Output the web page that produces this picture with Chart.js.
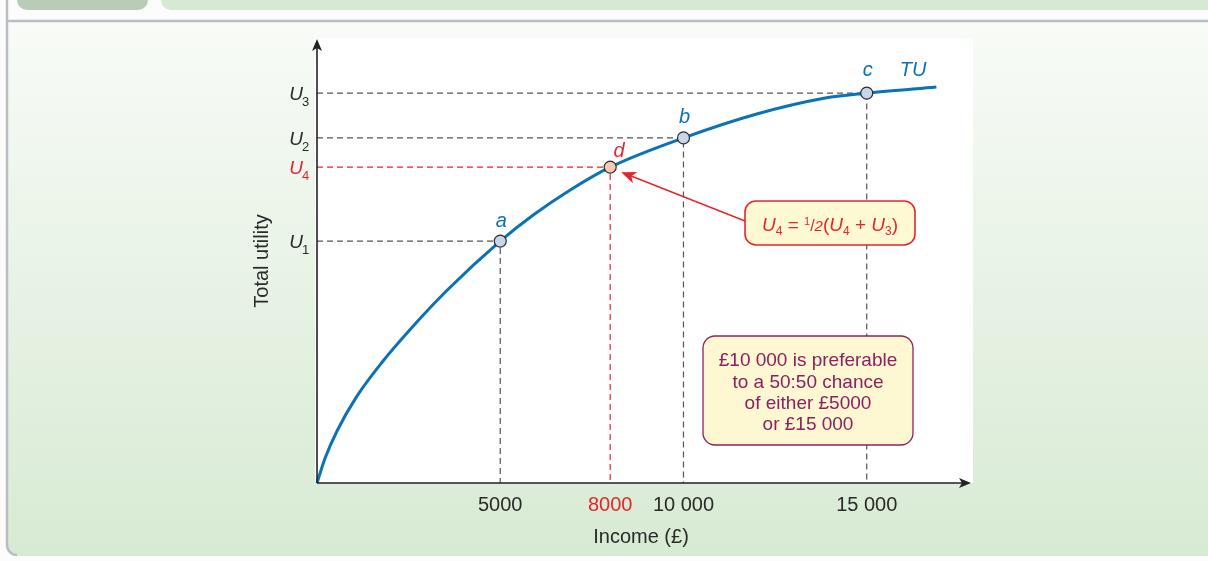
<!DOCTYPE html>
<html>
<head>
<meta charset="utf-8">
<script src="https://cdn.jsdelivr.net/npm/chart.js@4.4.1/dist/chart.umd.min.js"></script>
<style>
  html, body { margin: 0; padding: 0; background: #fff; overflow: hidden; }
  canvas { display: block; }
</style>
</head>
<body>
<canvas id="chart" width="1208" height="561"></canvas>
<script>
// TU curve, income (£) against total utility (arbitrary units)
const curveIncome  = [0, 220, 550, 1090, 1770, 2590, 3550, 5000, 5900, 6900, 8000, 10000, 12000, 13800, 15000, 16900];
const curveUtility = [0, 5.6, 11.8, 19.6, 27.2, 35.1, 43.5, 54.6, 60.5, 66.1, 71.3, 77.9, 83.3, 86.8, 88.0, 89.4];

// the marked points on the curve
const pointNames   = ['a', 'd', 'b', 'c'];
const pointIncome  = [5000, 8000, 10000, 15000];
const pointUtility = [54.6, 71.3, 77.9, 88.0];
const pointSubs    = ['1', '4', '2', '3'];   // U1, U4, U2, U3

const xTickValues = [5000, 8000, 10000, 15000];
const xTickLabels = ['5000', '8000', '10 000', '15 000'];

const noteLines = ['£10 000 is preferable', 'to a 50:50 chance', 'of either £5000', 'or £15 000'];

const FONT  = '"Liberation Sans", Arial, sans-serif';
const BLUE  = '#0a72b5';
const RED   = '#e5262d';
const GREY  = '#555';
const PLUM  = '#8c2063';
const INK   = '#2a2a2a';

// dashed guides from each point to both axes
const guideSets = pointIncome.map((inc, i) => ({
  data: [{ x: 0, y: pointUtility[i] }, { x: inc, y: pointUtility[i] }, { x: inc, y: 0 }],
  showLine: true,
  borderColor: pointNames[i] === 'd' ? RED : GREY,
  borderWidth: 1.2,
  borderDash: [6, 4],
  pointRadius: 0,
  tension: 0,
  order: 3,
  clip: false
}));

function roundRect(ctx, x, y, w, h, r) {
  ctx.beginPath();
  ctx.moveTo(x + r, y);
  ctx.arcTo(x + w, y, x + w, y + h, r);
  ctx.arcTo(x + w, y + h, x, y + h, r);
  ctx.arcTo(x, y + h, x, y, r);
  ctx.arcTo(x, y, x + w, y, r);
  ctx.closePath();
}

// draws a run of text pieces, centred on cx, baseline at by
function drawRich(ctx, parts, cx, by, color) {
  let w = 0;
  parts.forEach(p => { ctx.font = p.f; p.w = ctx.measureText(p.t).width; w += p.w; });
  let x = cx - w / 2;
  ctx.fillStyle = color;
  ctx.textAlign = 'left';
  ctx.textBaseline = 'alphabetic';
  parts.forEach(p => { ctx.font = p.f; ctx.fillText(p.t, x, by + (p.dy || 0)); x += p.w; });
}

const decor = {
  id: 'decor',
  beforeDraw(chart) {
    const { ctx, chartArea: a } = chart;
    const W = chart.width, H = chart.height;
    ctx.save();
    ctx.fillStyle = '#fbfcfb';
    ctx.fillRect(0, 0, W, H);

    // header tabs (cut off at top)
    ctx.fillStyle = '#b9ccb7';
    roundRect(ctx, 17, -20, 131, 30, 10); ctx.fill();
    ctx.fillStyle = '#d6e9d2';
    roundRect(ctx, 161, -20, W - 150, 30, 10); ctx.fill();

    // panel with green gradient
    const g = ctx.createLinearGradient(0, 22, 0, H);
    g.addColorStop(0, '#f8fbf7');
    g.addColorStop(1, '#d7ead3');
    ctx.fillStyle = g;
    roundRect(ctx, 7, 21, W + 20, H - 26, 10); ctx.fill();
    ctx.strokeStyle = '#bcbdc4';
    ctx.lineWidth = 2.5;
    ctx.beginPath();
    ctx.moveTo(W + 5, 21);
    ctx.lineTo(7, 21);
    ctx.moveTo(7, 0);
    ctx.lineTo(7, H - 16);
    ctx.arcTo(7, H - 6, 17, H - 6, 10);
    ctx.stroke();

    // white plot field
    ctx.fillStyle = '#fff';
    ctx.fillRect(a.left - 2, a.top - 2, a.right - a.left + 2, a.bottom - a.top + 2);
    ctx.restore();
  },
  afterDraw(chart) {
    const { ctx, chartArea: a, scales: { x, y } } = chart;
    const x0 = x.getPixelForValue(0), y0 = y.getPixelForValue(0);
    ctx.save();

    // axes with arrow heads
    ctx.strokeStyle = '#222';
    ctx.fillStyle = '#222';
    ctx.lineWidth = 1.6;
    ctx.beginPath();
    ctx.moveTo(x0, y0); ctx.lineTo(x0, a.top + 8);
    ctx.moveTo(x0, y0); ctx.lineTo(a.right - 10, y0);
    ctx.stroke();
    ctx.beginPath();
    ctx.moveTo(x0, a.top - 1); ctx.lineTo(x0 - 5, a.top + 11); ctx.lineTo(x0, a.top + 8); ctx.lineTo(x0 + 5, a.top + 11);
    ctx.closePath(); ctx.fill();
    ctx.beginPath();
    ctx.moveTo(a.right - 2, y0); ctx.lineTo(a.right - 14, y0 - 5); ctx.lineTo(a.right - 11, y0); ctx.lineTo(a.right - 14, y0 + 5);
    ctx.closePath(); ctx.fill();

    // income tick labels
    ctx.textAlign = 'center';
    ctx.textBaseline = 'middle';
    ctx.font = `20px ${FONT}`;
    xTickValues.forEach((v, i) => {
      ctx.fillStyle = v === 8000 ? RED : INK;
      ctx.fillText(xTickLabels[i], x.getPixelForValue(v), y0 + 22);
    });
    ctx.fillStyle = INK;
    ctx.fillText('Income (£)', 641, y0 + 54);

    ctx.save();
    ctx.translate(262, 261);
    ctx.rotate(-Math.PI / 2);
    ctx.fillText('Total utility', 0, 0);
    ctx.restore();

    // U labels on the utility axis
    pointUtility.forEach((u, i) => {
      const py = y.getPixelForValue(u);
      const col = pointNames[i] === 'd' ? RED : INK;
      ctx.font = `italic 19px ${FONT}`;
      ctx.fillStyle = col;
      ctx.textAlign = 'right';
      ctx.textBaseline = 'alphabetic';
      ctx.fillText('U', 303, py + 7);
      ctx.font = `13px ${FONT}`;
      ctx.textAlign = 'left';
      ctx.fillText(pointSubs[i], 302, py + 13);
    });

    // point letters
    ctx.font = `italic 20px ${FONT}`;
    ctx.textAlign = 'center';
    ctx.textBaseline = 'middle';
    pointNames.forEach((n, i) => {
      const px = x.getPixelForValue(pointIncome[i]);
      const py = y.getPixelForValue(pointUtility[i]);
      ctx.fillStyle = n === 'd' ? RED : BLUE;
      ctx.fillText(n, px + (n === 'd' ? 9 : 1), py - (n === 'c' ? 19 : 16) - (n === 'd' ? 0 : 4));
    });
    ctx.fillStyle = BLUE;
    ctx.fillText('TU', 913, 70);

    // red note box and arrow to d
    const dx = x.getPixelForValue(pointIncome[1]) + 11;
    const dy = y.getPixelForValue(pointUtility[1]) + 5;
    const sx = 745, sy = 221;
    const ang = Math.atan2(dy - sy, dx - sx);
    ctx.strokeStyle = RED;
    ctx.fillStyle = RED;
    ctx.lineWidth = 1.5;
    ctx.beginPath();
    ctx.moveTo(sx, sy);
    ctx.lineTo(dx - 10 * Math.cos(ang), dy - 10 * Math.sin(ang));
    ctx.stroke();
    ctx.beginPath();
    ctx.moveTo(dx, dy);
    ctx.lineTo(dx - 15 * Math.cos(ang) + 6 * Math.sin(ang), dy - 15 * Math.sin(ang) - 6 * Math.cos(ang));
    ctx.lineTo(dx - 11 * Math.cos(ang), dy - 11 * Math.sin(ang));
    ctx.lineTo(dx - 15 * Math.cos(ang) - 6 * Math.sin(ang), dy - 15 * Math.sin(ang) + 6 * Math.cos(ang));
    ctx.closePath(); ctx.fill();

    ctx.fillStyle = '#fdf9d2';
    ctx.lineWidth = 1.6;
    roundRect(ctx, 745, 201, 170, 44, 11);
    ctx.fill(); ctx.stroke();
    const it = `italic 19px ${FONT}`, rg = `19px ${FONT}`, sb = `12px ${FONT}`;
    drawRich(ctx, [
      { t: 'U', f: it }, { t: '4', f: sb, dy: 4 }, { t: ' = ', f: rg },
      { t: '1', f: `11px ${FONT}`, dy: -6 }, { t: '/', f: `16px ${FONT}` }, { t: '2', f: `italic 15px ${FONT}` },
      { t: '(', f: rg }, { t: 'U', f: it }, { t: '4', f: sb, dy: 4 }, { t: ' + ', f: rg },
      { t: 'U', f: it }, { t: '3', f: sb, dy: 4 }, { t: ')', f: rg }
    ], 830, 231, RED);

    // plum note box
    ctx.fillStyle = '#fdf8d1';
    ctx.strokeStyle = PLUM;
    ctx.lineWidth = 1.3;
    roundRect(ctx, 703, 336, 210, 109, 12);
    ctx.fill(); ctx.stroke();
    ctx.fillStyle = PLUM;
    ctx.font = `19px ${FONT}`;
    ctx.textAlign = 'center';
    ctx.textBaseline = 'middle';
    noteLines.forEach((l, i) => ctx.fillText(l, 808, 361 + i * 21.3));

    ctx.restore();
  }
};

new Chart(document.getElementById('chart'), {
  type: 'scatter',
  data: {
    datasets: [
      {
        data: pointIncome.map((v, i) => ({ x: v, y: pointUtility[i] })),
        pointRadius: 6,
        pointHoverRadius: 6,
        pointBackgroundColor: pointNames.map(n => n === 'd' ? '#f6c9b2' : '#c7d7e9'),
        pointBorderColor: '#2b2b2b',
        pointBorderWidth: 1.2,
        showLine: false,
        order: 0,
        clip: false
      },
      {
        data: curveIncome.map((v, i) => ({ x: v, y: curveUtility[i] })),
        showLine: true,
        borderColor: BLUE,
        borderWidth: 3,
        pointRadius: 0,
        cubicInterpolationMode: 'monotone',
        order: 1,
        clip: false
      },
      ...guideSets
    ]
  },
  options: {
    responsive: false,
    animation: false,
    events: [],
    layout: { autoPadding: false, padding: { left: 317, right: 235, top: 40, bottom: 78 } },
    scales: {
      x: { type: 'linear', min: 0, max: 17900, display: false },
      y: { type: 'linear', min: 0, max: 100, display: false }
    },
    plugins: { legend: { display: false }, tooltip: { enabled: false } }
  },
  plugins: [decor]
});
</script>
</body>
</html>
